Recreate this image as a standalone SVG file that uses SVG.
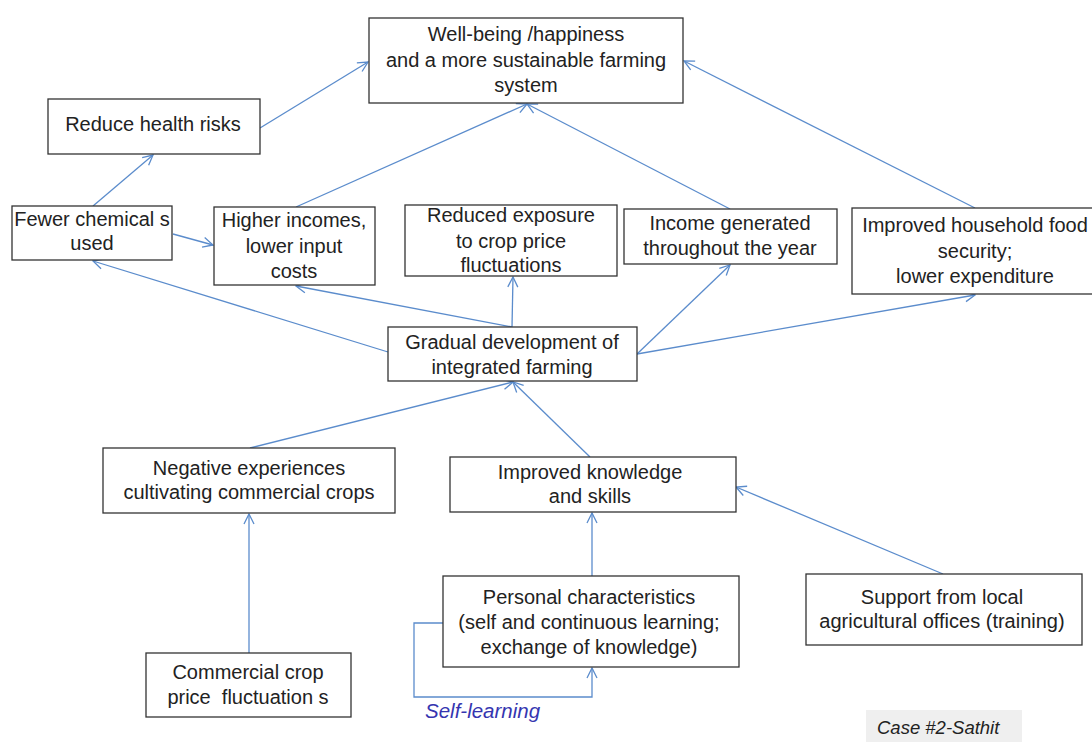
<svg xmlns="http://www.w3.org/2000/svg" width="1092" height="742" viewBox="0 0 1092 742">
<defs>
<marker id="ah" viewBox="0 0 12 12" refX="11" refY="6" markerWidth="12" markerHeight="12" markerUnits="userSpaceOnUse" orient="auto">
<path d="M1,1 L11,6 L1,11" fill="none" stroke="#5b8ccc" stroke-width="1.3"/>
</marker>
<style>
.box{fill:#fff;stroke:#333;stroke-width:1.3}
.t{font-family:"Liberation Sans",Arial,sans-serif;font-size:20px;fill:#222;text-anchor:middle}
.c{fill:none;stroke:#5b8ccc;stroke-width:1.3;marker-end:url(#ah)}
</style>
</defs>
<rect width="1092" height="742" fill="#fff"/>
<g id="connectors">
<line class="c" x1="260" y1="128" x2="368" y2="62"/>
<line class="c" x1="93" y1="206" x2="153" y2="155"/>
<line class="c" x1="173" y1="234" x2="213" y2="245"/>
<line class="c" x1="296" y1="207" x2="527" y2="104"/>
<line class="c" x1="730" y1="209" x2="527" y2="104"/>
<line class="c" x1="975" y1="208" x2="684" y2="61"/>
<line class="c" x1="388" y1="352" x2="93" y2="261"/>
<line class="c" x1="512" y1="327" x2="296" y2="286"/>
<line class="c" x1="512" y1="327" x2="513" y2="277"/>
<line class="c" x1="637" y1="354" x2="730" y2="265"/>
<line class="c" x1="637" y1="354" x2="975" y2="295"/>
<line class="c" x1="250" y1="448" x2="513" y2="382"/>
<line class="c" x1="590" y1="457" x2="513" y2="382"/>
<line class="c" x1="592" y1="576" x2="592" y2="513"/>
<line class="c" x1="943" y1="574" x2="736" y2="487"/>
<line class="c" x1="249" y1="653" x2="249" y2="514"/>
<polyline class="c" points="443,623 414,623 414,697 592,697 592,668"/>
</g>
<g id="n-wellbeing"><rect class="box" x="369" y="18" width="314" height="85"/>
<text class="t" x="526" y="41">Well-being /happiness</text><text class="t" x="526" y="67">and a more sustainable farming</text><text class="t" x="526" y="92">system</text></g>
<g id="n-health"><rect class="box" x="48" y="99" width="212" height="55"/>
<text class="t" x="153" y="131">Reduce health risks</text></g>
<g id="n-chem"><rect class="box" x="12" y="206" width="160" height="54"/>
<text class="t" x="92" y="226">Fewer chemical s</text><text class="t" x="92" y="250">used</text></g>
<g id="n-income"><rect class="box" x="214" y="207" width="161" height="78"/>
<text class="t" x="294" y="227">Higher incomes,</text><text class="t" x="294" y="253">lower input</text><text class="t" x="294" y="278">costs</text></g>
<g id="n-exposure"><rect class="box" x="405" y="205" width="212" height="71"/>
<text class="t" x="511" y="222">Reduced exposure</text><text class="t" x="511" y="248">to crop price</text><text class="t" x="511" y="272">fluctuations</text></g>
<g id="n-year"><rect class="box" x="624" y="209" width="213" height="55"/>
<text class="t" x="730" y="230">Income generated</text><text class="t" x="730" y="255">throughout the year</text></g>
<g id="n-food"><rect class="box" x="852" y="208" width="250" height="86"/>
<text class="t" x="975" y="232">Improved household food</text><text class="t" x="975" y="258">security;</text><text class="t" x="975" y="283">lower expenditure</text></g>
<g id="n-gradual"><rect class="box" x="388" y="327" width="249" height="54"/>
<text class="t" x="512" y="349">Gradual development of</text><text class="t" x="512" y="374">integrated farming</text></g>
<g id="n-negative"><rect class="box" x="103" y="448" width="292" height="65"/>
<text class="t" x="249" y="475">Negative experiences</text><text class="t" x="249" y="499">cultivating commercial crops</text></g>
<g id="n-knowledge"><rect class="box" x="450" y="457" width="286" height="55"/>
<text class="t" x="590" y="479">Improved knowledge</text><text class="t" x="590" y="503">and skills</text></g>
<g id="n-personal"><rect class="box" x="443" y="576" width="296" height="91"/>
<text class="t" x="589" y="604">Personal characteristics</text><text class="t" x="589" y="629">(self and continuous learning;</text><text class="t" x="589" y="654">exchange of knowledge)</text></g>
<g id="n-support"><rect class="box" x="806" y="574" width="276" height="71"/>
<text class="t" x="942" y="604">Support from local</text><text class="t" x="942" y="628">agricultural offices (training)</text></g>
<g id="n-commercial"><rect class="box" x="146" y="653" width="205" height="64"/>
<text class="t" x="248" y="679">Commercial crop</text><text class="t" x="248" y="704" xml:space="preserve">price  fluctuation s</text></g>
<text x="425" y="718" style="font-family:'Liberation Sans',Arial,sans-serif;font-size:20.5px;font-style:italic;fill:#3535b0">Self-learning</text>
<g id="case-label"><rect x="866" y="710" width="156" height="32" fill="#efefef"/>
<text x="877" y="734" style="font-family:'Liberation Sans',Arial,sans-serif;font-size:18.5px;font-style:italic;fill:#222">Case #2-Sathit</text></g>
</svg>
